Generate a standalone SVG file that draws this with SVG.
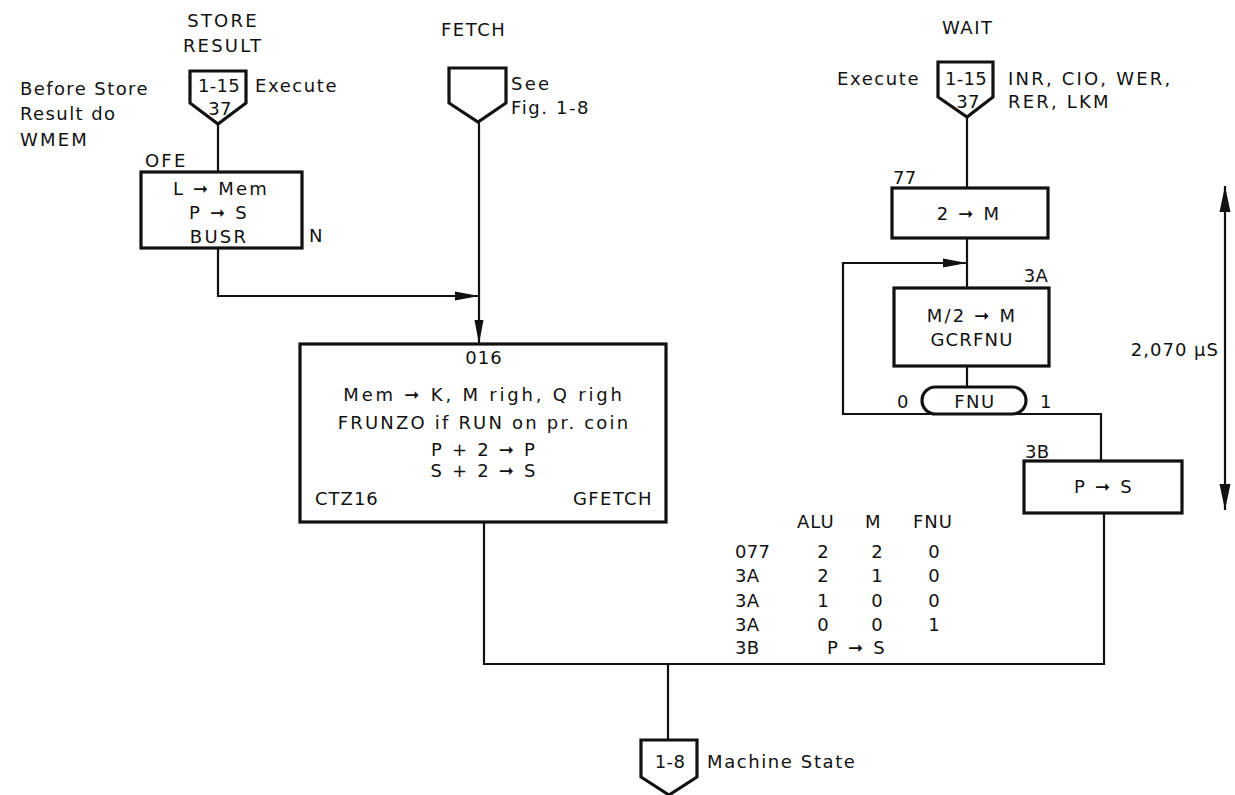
<svg xmlns="http://www.w3.org/2000/svg" width="1235" height="795" viewBox="0 0 1235 795">
<style>
text{font-family:"DejaVu Sans","Liberation Sans",sans-serif;font-size:18px;letter-spacing:2.2px;fill:#111}
.m{text-anchor:middle}
.e{text-anchor:end}
.n{letter-spacing:0.3px}
.box{fill:#fff;stroke:#111;stroke-width:3.2}
.off{fill:#fff;stroke:#111;stroke-width:3.2;stroke-linejoin:miter}
.ln{fill:none;stroke:#111;stroke-width:2.2}
</style>
<defs>
<marker id="ah" viewBox="0 0 24 10" refX="24" refY="5" markerWidth="24" markerHeight="10" markerUnits="userSpaceOnUse" orient="auto">
<path d="M0,0.5 L24,5 L0,9.5 Z" fill="#111"/>
</marker>
<marker id="ah2" viewBox="0 0 26 12" refX="26" refY="6" markerWidth="26" markerHeight="12" markerUnits="userSpaceOnUse" orient="auto-start-reverse">
<path d="M0,0.5 L26,6 L0,11.5 Z" fill="#111"/>
</marker>
</defs>
<rect width="1235" height="795" fill="#fff"/>

<g id="connectors">
<path class="ln" d="M218,124 V172"/>
<path class="ln" d="M218,248 V296 H479" marker-end="url(#ah)"/>
<path class="ln" d="M479,122 V344" marker-end="url(#ah)"/>
<path class="ln" d="M484,522 V664 H1104 V513"/>
<path class="ln" d="M668,664 V740"/>
<path class="ln" d="M967,117 V188"/>
<path class="ln" d="M967,238 V288"/>
<path class="ln" d="M967,366 V387"/>
<path class="ln" d="M930,414 H843 V263 H967" marker-end="url(#ah)"/>
<path class="ln" d="M1016,414 H1101 V461"/>
</g>

<g id="store-result">
<text class="m" x="223" y="27">STORE</text>
<text class="m" x="223" y="52">RESULT</text>
<text x="20" y="95" style="letter-spacing:1.4px">Before Store</text>
<text x="20" y="120" style="letter-spacing:1.4px">Result do</text>
<text x="20" y="146">WMEM</text>
<path class="off" d="M190,71 H246 V103 L218,124 L190,103 Z"/>
<text class="m n" x="219" y="92">1-15</text>
<text class="m n" x="220" y="115">37</text>
<text x="255" y="92" style="letter-spacing:1.6px">Execute</text>
</g>

<g id="ofe-box">
<text x="145" y="167">OFE</text>
<rect class="box" x="141" y="172" width="161" height="76"/>
<text class="m" x="221" y="195">L ➞ Mem</text>
<text class="m" x="219" y="219">P ➞ S</text>
<text class="m" x="219" y="243">BUSR</text>
<text x="309" y="242">N</text>
</g>

<g id="fetch">
<text x="441" y="36" style="letter-spacing:1.5px">FETCH</text>
<path class="off" d="M449,68 H506 V103 L478,122 L449,103 Z"/>
<text x="511" y="90">See</text>
<text x="511" y="114" style="letter-spacing:1.6px">Fig. 1-8</text>
</g>

<g id="box-016">
<rect class="box" x="300" y="344" width="366" height="178"/>
<text class="m" x="484" y="364" style="letter-spacing:1px">016</text>
<text class="m" x="484" y="401" style="letter-spacing:2.8px">Mem ➞ K, M righ, Q righ</text>
<text class="m" x="484" y="429">FRUNZO if RUN on pr. coin</text>
<text class="m" x="484" y="456">P + 2 ➞ P</text>
<text class="m" x="484" y="477">S + 2 ➞ S</text>
<text x="315" y="505" style="letter-spacing:1px">CTZ16</text>
<text class="e" x="653" y="505" style="letter-spacing:1.4px">GFETCH</text>
</g>

<g id="wait">
<text x="942" y="34" style="letter-spacing:1.5px">WAIT</text>
<text x="837" y="85" style="letter-spacing:1.6px">Execute</text>
<path class="off" d="M938,62 H993 V97 L967,117 L938,97 Z"/>
<text class="m n" x="966" y="85">1-15</text>
<text class="m n" x="968" y="108">37</text>
<text x="1008" y="85">INR, CIO, WER,</text>
<text x="1008" y="108">RER, LKM</text>
</g>

<g id="box-77">
<text x="893" y="184" class="n">77</text>
<rect class="box" x="892" y="188" width="156" height="50"/>
<text class="m" x="969" y="220">2 ➞ M</text>
</g>

<g id="box-3A">
<text class="e n" x="1048" y="282">3A</text>
<rect class="box" x="894" y="288" width="155" height="78"/>
<text class="m" x="972" y="322">M/2 ➞ M</text>
<text class="m" x="972" y="346" style="letter-spacing:1.2px">GCRFNU</text>
</g>

<g id="fnu">
<rect class="box" x="922" y="387" width="104" height="27" rx="13.5"/>
<text class="m" x="975" y="408" style="letter-spacing:1.5px">FNU</text>
<text x="897" y="408">0</text>
<text x="1040" y="408">1</text>
</g>

<g id="box-3B">
<text x="1025" y="458" class="n">3B</text>
<rect class="box" x="1024" y="461" width="158" height="52"/>
<text class="m" x="1104" y="493">P ➞ S</text>
</g>

<g id="timing">
<path class="ln" d="M1225,186 V510" marker-start="url(#ah2)" marker-end="url(#ah2)"/>
<text class="e" x="1219" y="356" style="letter-spacing:1px">2,070 μS</text>
</g>

<g id="table">
<text x="797" y="528" style="letter-spacing:1px">ALU</text>
<text x="865" y="528">M</text>
<text x="913" y="528" style="letter-spacing:1px">FNU</text>
<text x="735" y="558" class="n">077</text>
<text class="m" x="824" y="558">2</text>
<text class="m" x="878" y="558">2</text>
<text class="m" x="935" y="558">0</text>
<text x="735" y="582" class="n">3A</text>
<text class="m" x="824" y="582">2</text>
<text class="m" x="878" y="582">1</text>
<text class="m" x="935" y="582">0</text>
<text x="735" y="607" class="n">3A</text>
<text class="m" x="824" y="607">1</text>
<text class="m" x="878" y="607">0</text>
<text class="m" x="935" y="607">0</text>
<text x="735" y="631" class="n">3A</text>
<text class="m" x="824" y="631">0</text>
<text class="m" x="878" y="631">0</text>
<text class="m" x="935" y="631">1</text>
<text x="735" y="654" class="n">3B</text>
<text x="827" y="654">P ➞ S</text>
</g>

<g id="machine-state">
<path class="off" d="M641,740 H697 V777 L669,795 L641,777 Z"/>
<text class="m n" x="670" y="768">1-8</text>
<text x="707" y="768" style="letter-spacing:1.6px">Machine State</text>
</g>
</svg>
